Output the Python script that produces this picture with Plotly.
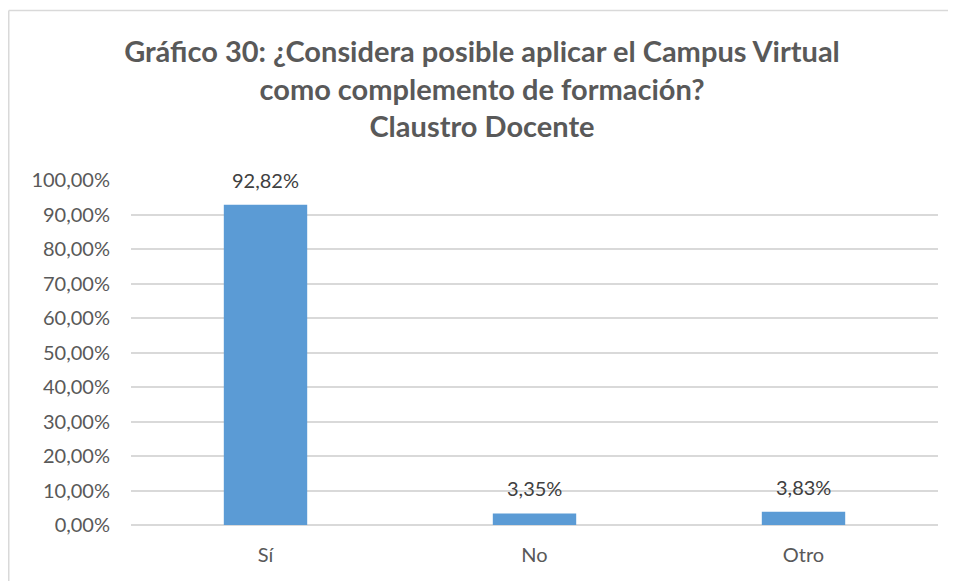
import plotly.graph_objects as go

# datos del gráfico
categorias = ["Sí", "No", "Otro"]
porcentajes = [92.82, 3.35, 3.83]
etiquetas = ["92,82%", "3,35%", "3,83%"]
ticks_val = [0, 10, 20, 30, 40, 50, 60, 70, 80, 90, 100]
ticks_txt = ["0,00%", "10,00%", "20,00%", "30,00%", "40,00%", "50,00%",
             "60,00%", "70,00%", "80,00%", "90,00%", "100,00%"]

titulo = ("<b>Gráfico 30: ¿Considera posible aplicar el Campus Virtual<br>"
          "como complemento de formación?<br>Claustro Docente</b>")

# el body de la página añade 8px de margen, se descuenta aquí
W, H = 948, 573
izq, der, arr, aba = 123, 930, 172, 517  # área de trazado en px

fig = go.Figure(go.Bar(
    x=categorias,
    y=porcentajes,
    marker=dict(color="#5B9BD5", line=dict(width=0)),
    width=0.31,
    hoverinfo="skip",
))

# etiquetas de datos encima de cada barra
for c, v, t in zip(categorias, porcentajes, etiquetas):
    fig.add_annotation(x=c, y=v, text=t, showarrow=False,
                       yanchor="middle", yshift=25,
                       font=dict(size=20, color="#404040"))

# borde del gráfico (solo arriba e izquierda visibles)
px_x = lambda p: (p - izq) / (der - izq)
px_y = lambda p: (aba - p) / (aba - arr)
fig.add_shape(type="line", xref="paper", yref="paper",
              x0=px_x(0.75), x1=px_x(W + 5), y0=px_y(2.5), y1=px_y(2.5),
              line=dict(color="#d9d9d9", width=1.5))
fig.add_shape(type="line", xref="paper", yref="paper",
              x0=px_x(0.75), x1=px_x(0.75), y0=px_y(2.5), y1=px_y(H + 5),
              line=dict(color="#d9d9d9", width=1.5))

fig.update_layout(
    width=W, height=H,
    margin=dict(l=izq, r=W - der, t=arr, b=H - aba),
    paper_bgcolor="white",
    plot_bgcolor="white",
    font=dict(family="Lato, Open Sans, sans-serif", color="#595959"),
    title=dict(text=titulo, x=0.5, xanchor="center", y=1 - 54 / H, yanchor="top",
               font=dict(size=29, color="#595959")),
    showlegend=False,
)
fig.update_yaxes(
    range=[0, 100], tickvals=ticks_val, ticktext=ticks_txt,
    tickfont=dict(size=20, color="#595959"),
    showgrid=True, gridcolor="#d9d9d9", gridwidth=1.5,
    zeroline=True, zerolinecolor="#d9d9d9", zerolinewidth=1.5,
    showline=False, ticks="", ticklabelstandoff=20,
)
fig.update_xaxes(
    tickfont=dict(size=20, color="#595959"),
    showline=False, ticks="", showgrid=False, ticklabelstandoff=16,
)

fig.write_html("out.html")
